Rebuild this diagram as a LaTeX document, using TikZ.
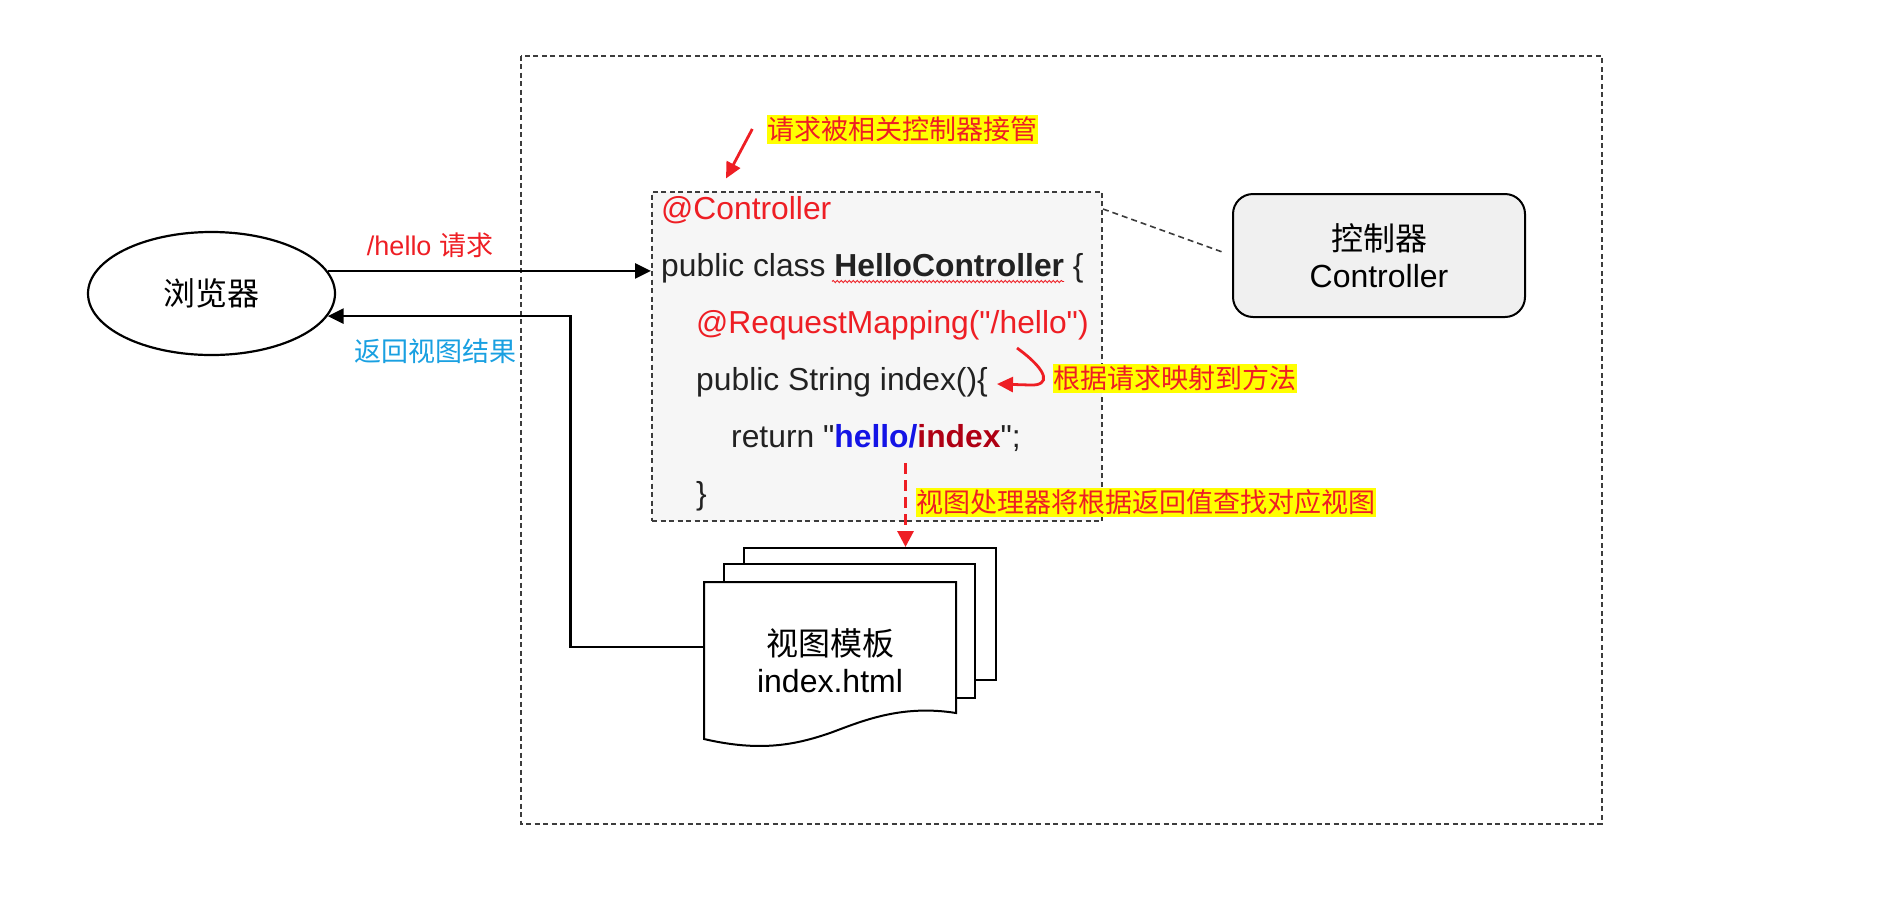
\documentclass[tikz,border=0pt]{standalone}
\usepackage{fontspec}
\setmainfont{Liberation Sans}
\newfontfamily\codefont{Liberation Sans}
\newfontfamily\cjk{Noto Sans CJK SC}
\usetikzlibrary{arrows.meta,shapes.geometric,decorations.pathmorphing}
\definecolor{myred}{RGB}{238,30,36}
\definecolor{mydarkred}{RGB}{175,0,20}
\definecolor{myblue}{RGB}{20,20,230}
\definecolor{mycyan}{RGB}{25,160,225}
\definecolor{myyellow}{RGB}{255,255,0}
\definecolor{codebg}{RGB}{246,246,246}
\definecolor{ctrlbg}{RGB}{240,240,240}
\definecolor{dashgray}{RGB}{60,60,60}
\definecolor{codetext}{RGB}{34,34,34}
\newcommand\myBig{\fontsize{32}{37}\selectfont}
\newcommand\myCode{\fontsize{31.8}{37}\selectfont}
\newcommand\mySmall{\fontsize{27}{32}\selectfont}
\begin{document}
\begin{tikzpicture}[x=1pt,y=-1pt,
  conn/.style={line width=2.8pt,-{Triangle[length=16pt,width=15pt]}},
  redarr/.style={draw=myred,line width=2.8pt,-{Triangle[length=16pt,width=15pt]},myred},
  reddash/.style={draw=myred,line width=3pt,dash pattern=on 11pt off 6pt,-{Triangle[length=16pt,width=16pt]},myred},
  outerbox/.style={draw=dashgray,line width=2pt,dash pattern=on 5pt off 3.5pt},
  codebox/.style={draw=dashgray,fill=codebg,line width=2pt,dash pattern=on 5pt off 3.5pt,minimum width=450pt,minimum height=329.5pt,inner sep=0pt},
  codeline/.style={anchor=base west,inner sep=0pt,font=\myCode\codefont,text=codetext},
  note/.style={fill=myyellow,text=myred,font=\mySmall\cjk,inner xsep=0.5pt,inner ysep=1pt,text height=23.8pt,text depth=3.2pt},
  browserbox/.style={ellipse,draw,line width=2.2pt,minimum width=247pt,minimum height=123pt,inner sep=0pt,font=\myBig\cjk},
  ctrlbox/.style={draw,rounded corners=20pt,fill=ctrlbg,line width=2pt,minimum width=292pt,minimum height=123pt,align=center,font=\myBig},
  page/.style={draw,fill=white,line width=2pt,inner sep=0pt},
  doctext/.style={align=center,font=\myBig,inner sep=0pt,minimum width=252pt}
]
\useasboundingbox (0,0) rectangle (1902,911);

% outer dashed frame
\draw[outerbox] (520.5,55.5) rectangle (1601.5,823.5);

% code box
\node[codebox] (code) at (877,356.25) {};
\node[codeline,text=myred] (c1) at (661,219.3) {@Controller};
\node[codeline] (c2) at (661,276.5) {public class \textbf{HelloController} \{};
\node[codeline,text=myred] (c3) at (696,333.5) {@RequestMapping("/hello")};
\node[codeline] (c4) at (696,390.5) {public String index()\{};
\node[codeline] (c5) at (731,447.5) {return "\textcolor{myblue}{\textbf{hello/}}\textcolor{mydarkred}{\textbf{index}}";};
\node[codeline] (c6) at (696,504) {\}};
\draw[myred,line width=0.9pt,decorate,decoration={snake,amplitude=1.1pt,segment length=4pt}] (832,281.5) -- (1064,281.5);

% browser
\node[browserbox] (browser) at (211.5,293.5) {浏览器};

% controller box
\node[ctrlbox] (ctrl) at (1379,255.5) {{\cjk 控制器}\\Controller};
\draw[dashgray,line width=1.6pt,dash pattern=on 6pt off 4pt,shorten >=9pt] ([yshift=-18.5pt]code.north east) -- (ctrl.west);

% pages
\node[page,minimum width=252pt,minimum height=132pt] (p3) at (870,614) {};
\node[page,minimum width=251pt,minimum height=134pt] (p2) at (849.5,631) {};
\draw[line width=2pt,fill=white] (704,582) -- (956,582) -- (956,713)
  .. controls (900,704) and (860,722) .. (830,733)
  .. controls (795,745) and (760,752) .. (704,739) -- cycle;
\node[doctext] (tpl) at (830,661) {{\cjk 视图模板}\\index.html};

% connectors
\draw[conn] (browser.11.2) -- (browser.11.2 -| code.west);
\draw[conn] ([yshift=14pt]tpl.west) -- ++(-133,0) |- (browser.-11.6);
\node[anchor=base,inner sep=0pt,font=\mySmall,text=myred] (lreq) at (430,255) {/hello {\cjk 请求}};
\node[anchor=base,inner sep=0pt,font=\mySmall\cjk,text=mycyan] (lret) at (435.5,361) {返回视图结果};

% notes
\node[note] (lab1) at (902,129) {请求被相关控制器接管};
\node[note] (lab2) at (1175,378.5) {根据请求映射到方法};
\node[note] (lab3) at (1145.5,502) {视图处理器将根据返回值查找对应视图};

\draw[redarr] ([xshift=-14pt]lab1.west) -- ([xshift=75pt,yshift=12pt]code.north west);
\draw[redarr] (1017,348) .. controls (1050,372) and (1050,386) .. (1030,385) -- (997,384);
\coordinate (dtop) at (905.5,463);
\draw[reddash] (dtop) -- (dtop |- p3.north);
\end{tikzpicture}
\end{document}
